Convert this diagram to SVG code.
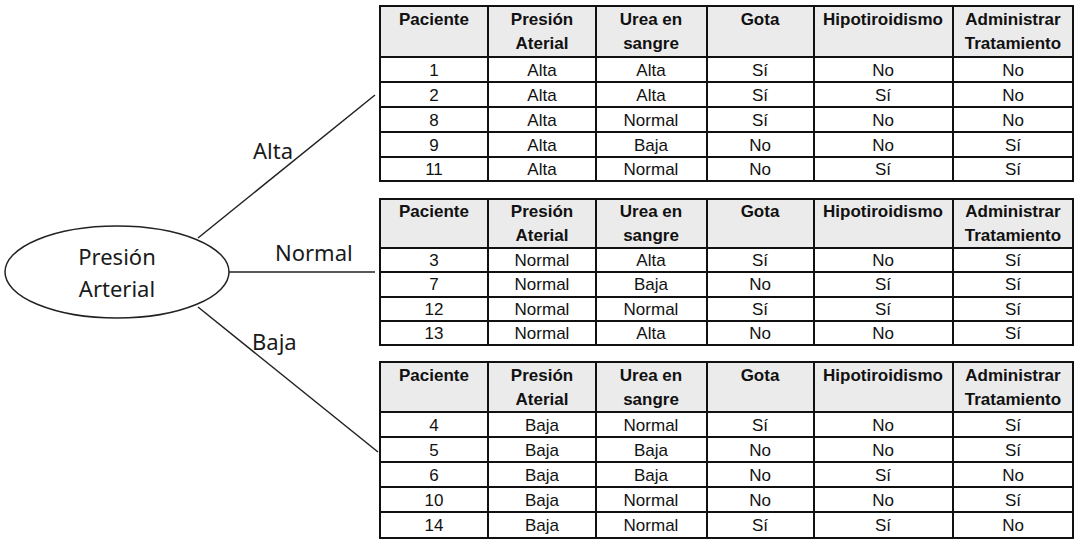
<svg xmlns="http://www.w3.org/2000/svg" width="1083" height="548" viewBox="0 0 1083 548">
<style>
.lbl{font-family:"Noto Sans","Open Sans",sans-serif;font-size:22px;fill:#1a1a1a}
.hd{font-family:"Liberation Sans",Arial,sans-serif;font-size:17px;font-weight:bold;fill:#111;text-anchor:middle}
.cell{font-family:"Liberation Sans",Arial,sans-serif;font-size:17px;fill:#111;text-anchor:middle}
.frame{fill:#fff;stroke:#111;stroke-width:2}
.head{fill:#ebebeb;stroke:#111;stroke-width:2}
.grid{stroke:#111;stroke-width:2;fill:none}
.conn{stroke:#222;stroke-width:1.5;fill:none}
</style>
<rect width="1083" height="548" fill="#fff"/>
<g id="connectors">
<line class="conn" x1="198" y1="238" x2="375" y2="95"/>
<line class="conn" x1="229" y1="272" x2="375" y2="272"/>
<line class="conn" x1="198" y1="307" x2="378" y2="452"/>
<text class="lbl" x="253" y="159">Alta</text>
<text class="lbl" x="275" y="261">Normal</text>
<text class="lbl" x="252" y="350">Baja</text>
</g>
<g id="root">
<ellipse cx="117" cy="272" rx="112" ry="46" fill="#fff" stroke="#222" stroke-width="1.5"/>
<text class="lbl" x="117" y="265" text-anchor="middle">Presión</text>
<text class="lbl" x="117" y="297" text-anchor="middle">Arterial</text>
</g>
<g id="table-alta">
<rect class="frame" x="380" y="6" width="693" height="175"/>
<rect class="head" x="380" y="6" width="693" height="51"/>
<path class="grid" d="M380 82H1073M380 107H1073M380 132H1073M380 157H1073M488 6V181M596 6V181M707 6V181M814 6V181M953 6V181"/>
<text class="hd" x="434" y="25">Paciente</text>
<text class="hd" x="542" y="25">Presión</text><text class="hd" x="542" y="49">Aterial</text>
<text class="hd" x="651" y="25">Urea en</text><text class="hd" x="651" y="49">sangre</text>
<text class="hd" x="760" y="25">Gota</text>
<text class="hd" x="883" y="25">Hipotiroidismo</text>
<text class="hd" x="1013" y="25">Administrar</text><text class="hd" x="1013" y="49">Tratamiento</text>
<g class="cell-rows">
<text class="cell" x="434" y="76">1</text><text class="cell" x="542" y="76">Alta</text><text class="cell" x="651" y="76">Alta</text><text class="cell" x="760" y="76">Sí</text><text class="cell" x="883" y="76">No</text><text class="cell" x="1013" y="76">No</text>
<text class="cell" x="434" y="101">2</text><text class="cell" x="542" y="101">Alta</text><text class="cell" x="651" y="101">Alta</text><text class="cell" x="760" y="101">Sí</text><text class="cell" x="883" y="101">Sí</text><text class="cell" x="1013" y="101">No</text>
<text class="cell" x="434" y="126">8</text><text class="cell" x="542" y="126">Alta</text><text class="cell" x="651" y="126">Normal</text><text class="cell" x="760" y="126">Sí</text><text class="cell" x="883" y="126">No</text><text class="cell" x="1013" y="126">No</text>
<text class="cell" x="434" y="151">9</text><text class="cell" x="542" y="151">Alta</text><text class="cell" x="651" y="151">Baja</text><text class="cell" x="760" y="151">No</text><text class="cell" x="883" y="151">No</text><text class="cell" x="1013" y="151">Sí</text>
<text class="cell" x="434" y="175">11</text><text class="cell" x="542" y="175">Alta</text><text class="cell" x="651" y="175">Normal</text><text class="cell" x="760" y="175">No</text><text class="cell" x="883" y="175">Sí</text><text class="cell" x="1013" y="175">Sí</text>
</g>
</g>
<g id="table-normal">
<rect class="frame" x="380" y="199" width="693" height="146"/>
<rect class="head" x="380" y="199" width="693" height="49"/>
<path class="grid" d="M380 272H1073M380 297H1073M380 321H1073M488 199V345M596 199V345M707 199V345M814 199V345M953 199V345"/>
<text class="hd" x="434" y="217">Paciente</text>
<text class="hd" x="542" y="217">Presión</text><text class="hd" x="542" y="241">Aterial</text>
<text class="hd" x="651" y="217">Urea en</text><text class="hd" x="651" y="241">sangre</text>
<text class="hd" x="760" y="217">Gota</text>
<text class="hd" x="883" y="217">Hipotiroidismo</text>
<text class="hd" x="1013" y="217">Administrar</text><text class="hd" x="1013" y="241">Tratamiento</text>
<text class="cell" x="434" y="266">3</text><text class="cell" x="542" y="266">Normal</text><text class="cell" x="651" y="266">Alta</text><text class="cell" x="760" y="266">Sí</text><text class="cell" x="883" y="266">No</text><text class="cell" x="1013" y="266">Sí</text>
<text class="cell" x="434" y="290">7</text><text class="cell" x="542" y="290">Normal</text><text class="cell" x="651" y="290">Baja</text><text class="cell" x="760" y="290">No</text><text class="cell" x="883" y="290">Sí</text><text class="cell" x="1013" y="290">Sí</text>
<text class="cell" x="434" y="315">12</text><text class="cell" x="542" y="315">Normal</text><text class="cell" x="651" y="315">Normal</text><text class="cell" x="760" y="315">Sí</text><text class="cell" x="883" y="315">Sí</text><text class="cell" x="1013" y="315">Sí</text>
<text class="cell" x="434" y="339">13</text><text class="cell" x="542" y="339">Normal</text><text class="cell" x="651" y="339">Alta</text><text class="cell" x="760" y="339">No</text><text class="cell" x="883" y="339">No</text><text class="cell" x="1013" y="339">Sí</text>
</g>
<g id="table-baja">
<rect class="frame" x="380" y="362" width="693" height="176"/>
<rect class="head" x="380" y="362" width="693" height="50"/>
<path class="grid" d="M380 437H1073M380 462H1073M380 487H1073M380 512H1073M488 362V538M596 362V538M707 362V538M814 362V538M953 362V538"/>
<text class="hd" x="434" y="381">Paciente</text>
<text class="hd" x="542" y="381">Presión</text><text class="hd" x="542" y="405">Aterial</text>
<text class="hd" x="651" y="381">Urea en</text><text class="hd" x="651" y="405">sangre</text>
<text class="hd" x="760" y="381">Gota</text>
<text class="hd" x="883" y="381">Hipotiroidismo</text>
<text class="hd" x="1013" y="381">Administrar</text><text class="hd" x="1013" y="405">Tratamiento</text>
<text class="cell" x="434" y="431">4</text><text class="cell" x="542" y="431">Baja</text><text class="cell" x="651" y="431">Normal</text><text class="cell" x="760" y="431">Sí</text><text class="cell" x="883" y="431">No</text><text class="cell" x="1013" y="431">Sí</text>
<text class="cell" x="434" y="456">5</text><text class="cell" x="542" y="456">Baja</text><text class="cell" x="651" y="456">Baja</text><text class="cell" x="760" y="456">No</text><text class="cell" x="883" y="456">No</text><text class="cell" x="1013" y="456">Sí</text>
<text class="cell" x="434" y="481">6</text><text class="cell" x="542" y="481">Baja</text><text class="cell" x="651" y="481">Baja</text><text class="cell" x="760" y="481">No</text><text class="cell" x="883" y="481">Sí</text><text class="cell" x="1013" y="481">No</text>
<text class="cell" x="434" y="506">10</text><text class="cell" x="542" y="506">Baja</text><text class="cell" x="651" y="506">Normal</text><text class="cell" x="760" y="506">No</text><text class="cell" x="883" y="506">No</text><text class="cell" x="1013" y="506">Sí</text>
<text class="cell" x="434" y="531">14</text><text class="cell" x="542" y="531">Baja</text><text class="cell" x="651" y="531">Normal</text><text class="cell" x="760" y="531">Sí</text><text class="cell" x="883" y="531">Sí</text><text class="cell" x="1013" y="531">No</text>
</g>
</svg>
